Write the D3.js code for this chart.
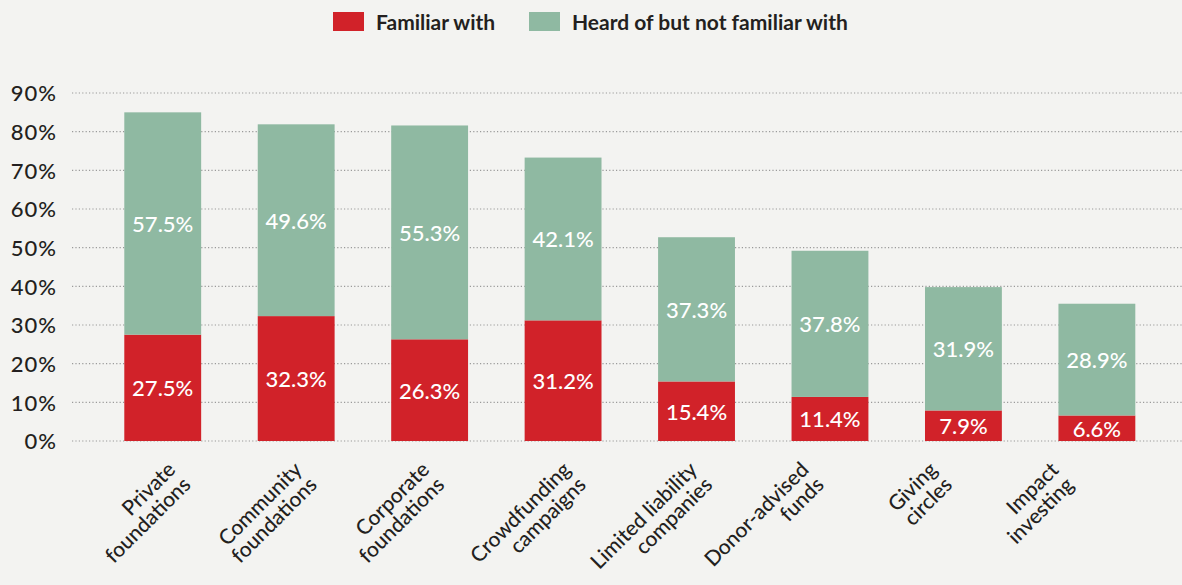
<!DOCTYPE html>
<html>
<head>
<meta charset="utf-8">
<script src="https://cdn.jsdelivr.net/npm/d3@7"></script>
<style>
  html, body { margin: 0; padding: 0; background: #f3f3f1; }
  svg { display: block; font-family: Lato, "Noto Sans", sans-serif; }
</style>
</head>
<body>
<svg id="chart" width="1182" height="585"></svg>
<script>
// Awareness of giving vehicles (% of respondents)
const categories = [
  "Private foundations",
  "Community foundations",
  "Corporate foundations",
  "Crowdfunding campaigns",
  "Limited liability companies",
  "Donor-advised funds",
  "Giving circles",
  "Impact investing"
];
const categoryLines = [
  ["Private", "foundations"],
  ["Community", "foundations"],
  ["Corporate", "foundations"],
  ["Crowdfunding", "campaigns"],
  ["Limited liability", "companies"],
  ["Donor-advised", "funds"],
  ["Giving", "circles"],
  ["Impact", "investing"]
];
const familiarWith = [27.5, 32.3, 26.3, 31.2, 15.4, 11.4, 7.9, 6.6];
const heardNotFamiliar = [57.5, 49.6, 55.3, 42.1, 37.3, 37.8, 31.9, 28.9];
const yTicks = [0, 10, 20, 30, 40, 50, 60, 70, 80, 90];
const seriesNames = ["Familiar with", "Heard of but not familiar with"];

const RED = "#d12229", GREEN = "#8fb9a2", INK = "#231f20";

// Axis-label drift along the row of rotated category names
const labelNudge = [7, 0, -6, 2, -5, -27, -32, -44];

const svg = d3.select("#chart");

const x = d3.scaleBand()
  .domain(categories)
  .range([96, 1163.6])
  .paddingInner(0.424)
  .paddingOuter(0.212);

const y = d3.scaleLinear().domain([0, 90]).range([441, 93]);

// Dotted gridlines
const grid = svg.append("g");
grid.selectAll("line")
  .data(yTicks)
  .join("line")
  .attr("x1", 72).attr("x2", 1182)
  .attr("y1", d => y(d)).attr("y2", d => y(d))
  .attr("stroke", "#9a9a9a")
  .attr("stroke-width", 1.2)
  .attr("stroke-dasharray", "1.2,2.2");

// Y axis tick labels
const yAxis = d3.axisLeft(y).tickValues(yTicks).tickFormat(d => d + "%").tickSize(0).tickPadding(0);
const yg = svg.append("g").attr("transform", "translate(57,0)").call(yAxis);
yg.select(".domain").remove();
yg.selectAll("text")
  .attr("fill", INK)
  .attr("dy", "0.36em")
  .style("font-size", "22px")
  .style("letter-spacing", "1px")
  .style("font-family", "Lato, sans-serif")
  .style("font-weight", 500);

// Stacked bars
const rows = categories.map((c, i) => ({
  cat: c,
  familiar: familiarWith[i],
  heard: heardNotFamiliar[i]
}));
const stack = d3.stack().keys(["familiar", "heard"]);
const layers = stack(rows);
const colors = { familiar: RED, heard: GREEN };

const barG = svg.append("g");
layers.forEach(layer => {
  barG.append("g")
    .attr("fill", colors[layer.key])
    .selectAll("rect")
    .data(layer)
    .join("rect")
    .attr("x", d => x(d.data.cat))
    .attr("width", x.bandwidth())
    .attr("y", d => y(d[1]))
    .attr("height", d => y(d[0]) - y(d[1]));

  barG.append("g")
    .selectAll("text")
    .data(layer)
    .join("text")
    .attr("x", d => x(d.data.cat) + x.bandwidth() / 2)
    .attr("y", d => (y(d[0]) + y(d[1])) / 2)
    .attr("text-anchor", "middle")
    .attr("dominant-baseline", "central")
    .attr("fill", "#ffffff")
    .style("font-size", "22px")
    .style("font-weight", 500)
    .text(d => (d[1] - d[0]).toFixed(1) + "%");
});

// Rotated category labels
const xl = svg.append("g");
categories.forEach((c, i) => {
  const ax = x(c) + x.bandwidth() / 2 + labelNudge[i] + 7;
  const ay = 471;
  const t = xl.append("text")
    .attr("transform", `translate(${ax},${ay}) rotate(-45)`)
    .attr("text-anchor", "end")
    .attr("fill", INK)
    .style("font-size", "21px")
    .style("font-weight", 500);
  categoryLines[i].forEach((line, j) => {
    t.append("tspan").attr("x", 0).attr("dy", j === 0 ? 0 : "1.02em").text(line);
  });
});

// Legend
const legendX = [333, 529];
const legend = svg.append("g");
seriesNames.forEach((name, i) => {
  const g = legend.append("g").attr("transform", `translate(${legendX[i]},12)`);
  g.append("rect").attr("width", 31).attr("height", 19).attr("fill", i === 0 ? RED : GREEN);
  g.append("text")
    .attr("x", 43).attr("y", 9.5)
    .attr("dominant-baseline", "central")
    .attr("fill", INK)
    .style("font-size", "21px")
    .style("font-weight", 700)
    .text(name);
});
</script>
</body>
</html>
